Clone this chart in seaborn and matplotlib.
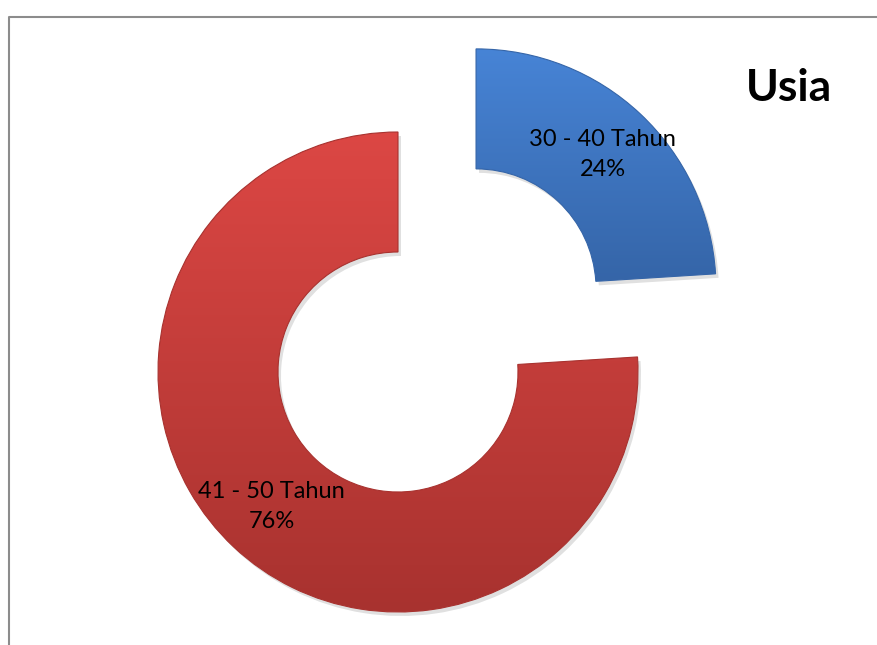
import numpy as np
import pandas as pd
import seaborn as sns
import matplotlib.pyplot as plt
from matplotlib.patches import Wedge
from matplotlib.colors import LinearSegmentedColormap

# data
categories = ['30 - 40 Tahun', '41 - 50 Tahun']
values = [24, 76]
title = 'Usia'

df = pd.DataFrame({'kategori': categories, 'persen': values})
labels = [f'{k}\n{v}%' for k, v in zip(df['kategori'], df['persen'])]

sns.set_theme(style='white')
plt.rcParams['font.family'] = ['Lato', 'DejaVu Sans']

fig = plt.figure(figsize=(8.78, 6.45), dpi=100)
ax = fig.add_axes([0, 0, 1, 1])

# light / dark ends of each wedge's gradient
grads = [('#4784d6', '#3565a8'), ('#dc4744', '#a8322f')]

wedges, texts = ax.pie(
        df['persen'],
        labels=labels,
        startangle=90,
        counterclock=False,
        center=(398, 273),
        radius=240,
        explode=[114, 0],
        labeldistance=0.77,
        wedgeprops=dict(width=120, linewidth=0.8),
        frame=True,
)
ax.set_aspect('equal')
ax.axis('off')

for w, (c1, c2) in zip(wedges, grads):
    w.set_edgecolor(c2)
    # soft shadow
    sh = Wedge((w.center[0] + 3, w.center[1] - 4), w.r, w.theta1, w.theta2,
               width=w.width, facecolor='#000000', alpha=0.12, lw=0, zorder=0)
    ax.add_patch(sh)
    # vertical gradient clipped to the wedge
    cm = LinearSegmentedColormap.from_list('g', [c2, c1])
    bb = w.get_path().get_extents(w.get_patch_transform())
    grad = np.linspace(0, 1, 256).reshape(-1, 1)
    im = ax.imshow(grad, cmap=cm, origin='lower', aspect='auto',
                   extent=[bb.x0, bb.x1, bb.y0, bb.y1], zorder=1.5)
    im.set_clip_path(w)
    w.set_zorder(2)
    w.set_facecolor('none')

for t in texts:
    t.set_ha('center')
    t.set_va('center')
    t.set_fontsize(17)
    t.set_linespacing(1.55)
    t.set_color('black')
    t.set_zorder(5)

ax.text(789, 557, title, fontsize=32, fontweight='bold', color='black',
        ha='center', va='center')

# outer frame
ax.plot([9, 9, 900], [-10, 628, 628], color='#8c8c8c', lw=1.5, clip_on=False)

ax.set_xlim(0, 878)
ax.set_ylim(0, 645)
fig.savefig('out.png', dpi=100)
